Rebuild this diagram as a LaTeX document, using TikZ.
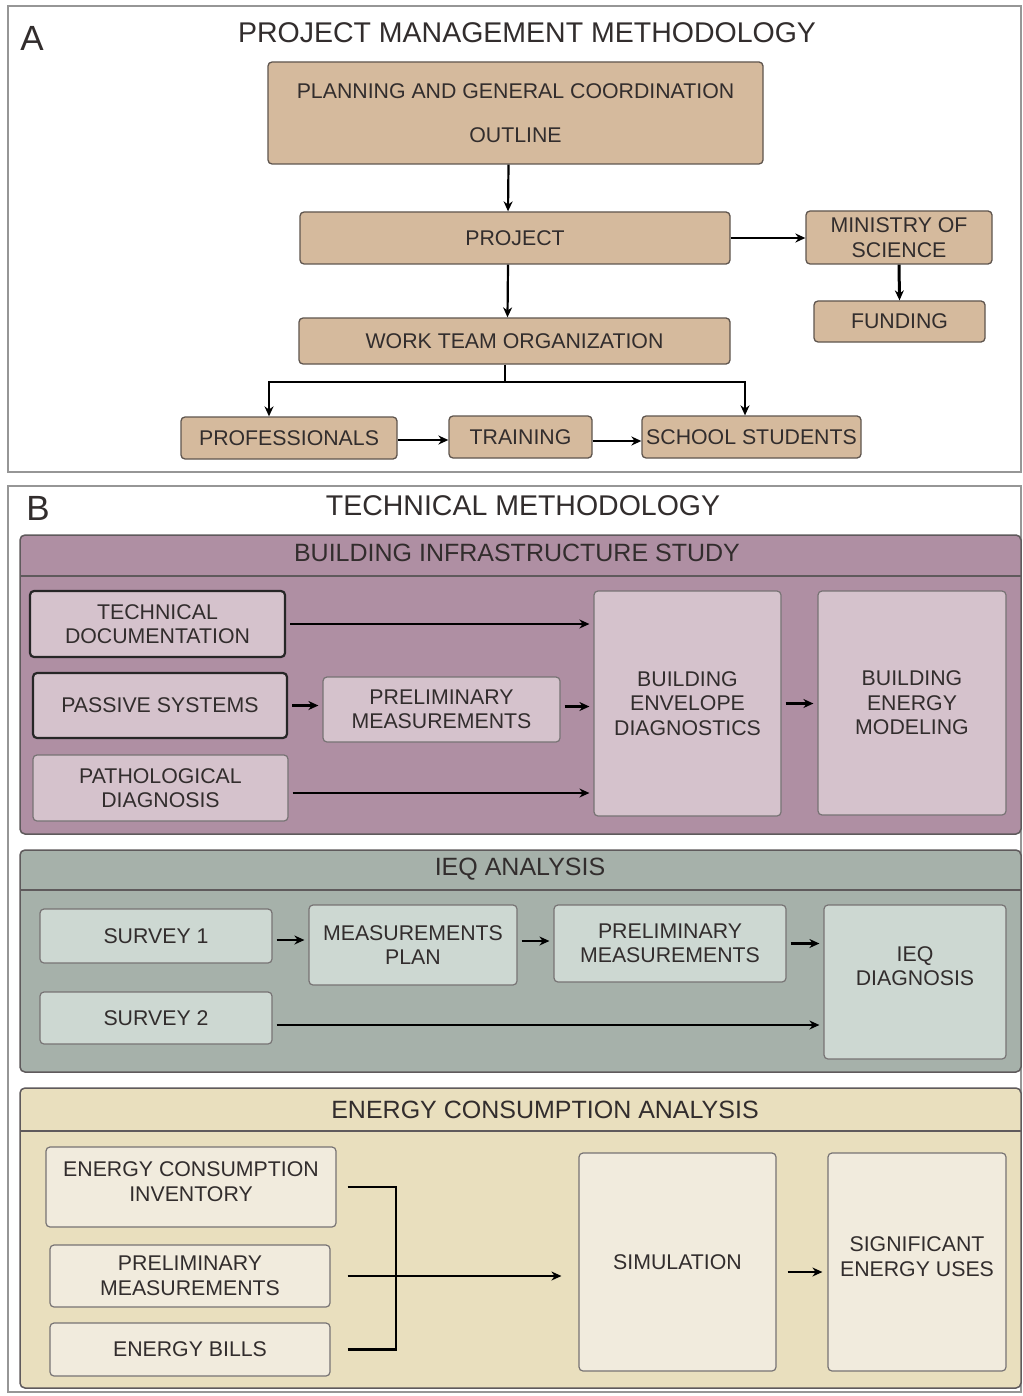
\documentclass[tikz,border=0pt]{standalone}
\usepackage{fontspec}
\setmainfont{Liberation Sans}
\usetikzlibrary{arrows.meta,positioning,calc}
\definecolor{framegrey}{RGB}{150,150,150}
\definecolor{txtdark}{RGB}{50,45,45}
\definecolor{mgmtfill}{RGB}{213,186,157}
\definecolor{mgmtline}{RGB}{95,85,78}
\definecolor{bisfill}{RGB}{175,143,163}
\definecolor{bisbox}{RGB}{213,194,204}
\definecolor{ieqfill}{RGB}{166,177,170}
\definecolor{ieqbox}{RGB}{205,216,210}
\definecolor{ecafill}{RGB}{233,223,190}
\definecolor{ecabox}{RGB}{241,235,221}
\definecolor{grpline}{RGB}{95,90,92}

\begin{document}
\begin{tikzpicture}[x=1pt, y=-1pt,
  every node/.style={text=txtdark, align=center, inner sep=0pt,
    font=\fontsize{21.3}{24.5}\selectfont},
  dim/.style 2 args={minimum width=#1pt, minimum height=#2pt},
  mbox/.style={draw=mgmtline, line width=1.3pt, fill=mgmtfill,
    rounded corners=4pt},
  bbox/.style={draw=grpline!85, line width=1.2pt, rounded corners=4pt},
  heavy/.style={draw=black!85, line width=2.2pt},
  grp/.style={draw=grpline, line width=1.5pt, rounded corners=5pt},
  ttl/.style={font=\fontsize{28.5}{31}\selectfont},
  gttl/.style={font=\fontsize{25}{28}\selectfont},
  tag/.style={font=\fontsize{35}{38}\selectfont},
  lnk/.style={-{Stealth[length=10pt,width=9pt]}, line width=2.2pt},
  flw/.style={lnk, shorten <=4pt, shorten >=4pt},
]
\useasboundingbox (0,0) rectangle (1022,1396);
\draw[framegrey, line width=1.2pt, fill=white] (8,6) rectangle (1021,472);
\draw[framegrey, line width=1.2pt, fill=white] (8,486) rectangle (1021,1392);

% panel A: project management
\node[tag] (tagA) at (32,38) {A};
\node[ttl] (ttlA) at (527,33) {PROJECT MANAGEMENT METHODOLOGY};
\node[mbox, dim={495}{102}] (plan) at (515.5,113)
  {PLANNING AND GENERAL COORDINATION\\[20pt]OUTLINE};
\node[mbox, dim={430}{52}] (proj) at (515,238) {PROJECT};
\node[mbox, dim={186}{53}] (mos) at (899,237.5) {MINISTRY OF\\SCIENCE};
\node[mbox, dim={171}{41}] (fund) at (899.5,321.5) {FUNDING};
\node[mbox, dim={431}{46}] (wto) at (514.5,341) {WORK TEAM ORGANIZATION};
\node[mbox, dim={216}{42}] (prof) at (289,438) {PROFESSIONALS};
\node[mbox, dim={143}{42}] (trn) at (520.5,437) {TRAINING};
\node[mbox, dim={219}{42}] (sst) at (751.5,437) {SCHOOL STUDENTS};
\coordinate (split) at (505,382);

\draw[lnk] ([xshift=-7pt]plan.south) -- ([xshift=-7pt]proj.north);
\draw[lnk] ([xshift=-7pt]proj.south) -- ([xshift=-7pt]wto.north);
\draw[lnk] (proj.east) -- (proj.east -| mos.west);
\draw[lnk, line width=3pt] (mos.south) -- (fund.north);
\draw[line width=2.2pt] ([xshift=-9.5pt]wto.south) -- (split);
\draw[lnk] (split) -| ([xshift=-20pt]prof.north);
\draw[lnk] (split) -| ([xshift=-6.5pt]sst.north);
\draw[lnk] ([yshift=-2pt]prof.east) -- ([yshift=-2pt]prof.east -| trn.west);
\draw[lnk] ([yshift=-4pt]trn.east) -- ([yshift=-4pt]trn.east -| sst.west);

% panel B: technical methodology
\node[tag] (tagB) at (38,508) {B};
\node[ttl] (ttlB) at (523,506) {TECHNICAL METHODOLOGY};

% building infrastructure study
\draw[grp, fill=bisfill] (20,535) rectangle (1021,834);
\draw[grpline, line width=1.5pt] (20,576) -- (1021,576);
\node[gttl] (bisT) at (517,553) {BUILDING INFRASTRUCTURE STUDY};
\node[bbox, heavy, fill=bisbox, dim={255}{66}] (tdoc) at (157.5,624)
  {TECHNICAL\\DOCUMENTATION};
\node[bbox, heavy, fill=bisbox, dim={254}{65}] (pasy) at (160,705.5)
  {PASSIVE SYSTEMS};
\node[bbox, fill=bisbox, dim={255}{66}] (patd) at (160.5,788)
  {PATHOLOGICAL\\DIAGNOSIS};
\node[bbox, fill=bisbox, dim={237}{65}] (prm1) at (441.5,709.5)
  {PRELIMINARY\\MEASUREMENTS};
\node[bbox, fill=bisbox, dim={187}{225}] (bed) at (687.5,703.5)
  {BUILDING\\ENVELOPE\\DIAGNOSTICS};
\node[bbox, fill=bisbox, dim={188}{224}] (bem) at (912,703)
  {BUILDING\\ENERGY\\MODELING};
\draw[flw] (tdoc.east) -- (tdoc.east -| bed.west);
\draw[flw] (pasy.east) -- (pasy.east -| prm1.west);
\draw[flw] ([yshift=3pt]prm1.east) -- ([yshift=3pt]prm1.east -| bed.west);
\draw[flw] ([yshift=-5pt]patd.east) -- ([yshift=-5pt]patd.east -| bed.west);
\draw[flw] (bed.east) -- (bed.east -| bem.west);

% IEQ analysis
\draw[grp, fill=ieqfill] (20,850) rectangle (1021,1072);
\draw[grpline, line width=1.5pt] (20,890) -- (1021,890);
\node[gttl] (ieqT) at (520,869) {IEQ ANALYSIS};
\node[bbox, fill=ieqbox, dim={232}{54}] (sv1) at (156,936) {SURVEY 1};
\node[bbox, fill=ieqbox, dim={232}{52}] (sv2) at (156,1018) {SURVEY 2};
\node[bbox, fill=ieqbox, dim={208}{80}] (mpl) at (413,945)
  {MEASUREMENTS\\PLAN};
\node[bbox, fill=ieqbox, dim={232}{77}] (prm2) at (670,943.5)
  {PRELIMINARY\\MEASUREMENTS};
\node[bbox, fill=ieqbox, dim={182}{154}] (ieqd) at (915,982) {};
\node (ieqdT) at (915,966) {IEQ\\DIAGNOSIS};
\draw[flw] ([yshift=-4pt]sv1.east) -- ([yshift=-4pt]sv1.east -| mpl.west);
\draw[flw] ([yshift=4pt]mpl.east) -- ([yshift=4pt]mpl.east -| prm2.west);
\draw[flw] (prm2.east) -- (prm2.east -| ieqd.west);
\draw[flw] ([yshift=-7pt]sv2.east) -- ([yshift=-7pt]sv2.east -| ieqd.west);

% energy consumption analysis
\draw[grp, fill=ecafill] (20,1088) rectangle (1021,1388);
\draw[grpline, line width=1.5pt] (20,1131) -- (1021,1131);
\node[gttl] (ecaT) at (545,1110) {ENERGY CONSUMPTION ANALYSIS};
\node[bbox, fill=ecabox, dim={290}{80}] (eci) at (191,1187) {};
\node (eciT) at (191,1181.5) {ENERGY CONSUMPTION\\INVENTORY};
\node[bbox, fill=ecabox, dim={280}{62}] (prm3) at (190,1276)
  {PRELIMINARY\\MEASUREMENTS};
\node[bbox, fill=ecabox, dim={280}{53}] (ebl) at (190,1349.5) {ENERGY BILLS};
\node[bbox, fill=ecabox, dim={197}{218}] (sim) at (677.5,1262) {SIMULATION};
\node[bbox, fill=ecabox, dim={178}{218}] (seu) at (917,1262) {};
\node (seuT) at (917,1256.5) {SIGNIFICANT\\ENERGY USES};
\coordinate (join) at (396,1275);
\draw[line width=2.2pt] ([xshift=11pt]eci.east) -| (join);
\draw[line width=2.2pt] ([xshift=17pt]ebl.east) -| (join);
\draw[lnk] ([xshift=17pt]prm3.east) -- ([xshift=-17pt]prm3.east -| sim.west);
\draw[lnk, shorten <=11pt, shorten >=5pt] ([yshift=-10pt]sim.east)
  -- ([yshift=-10pt]sim.east -| seu.west);
\end{tikzpicture}
\end{document}
